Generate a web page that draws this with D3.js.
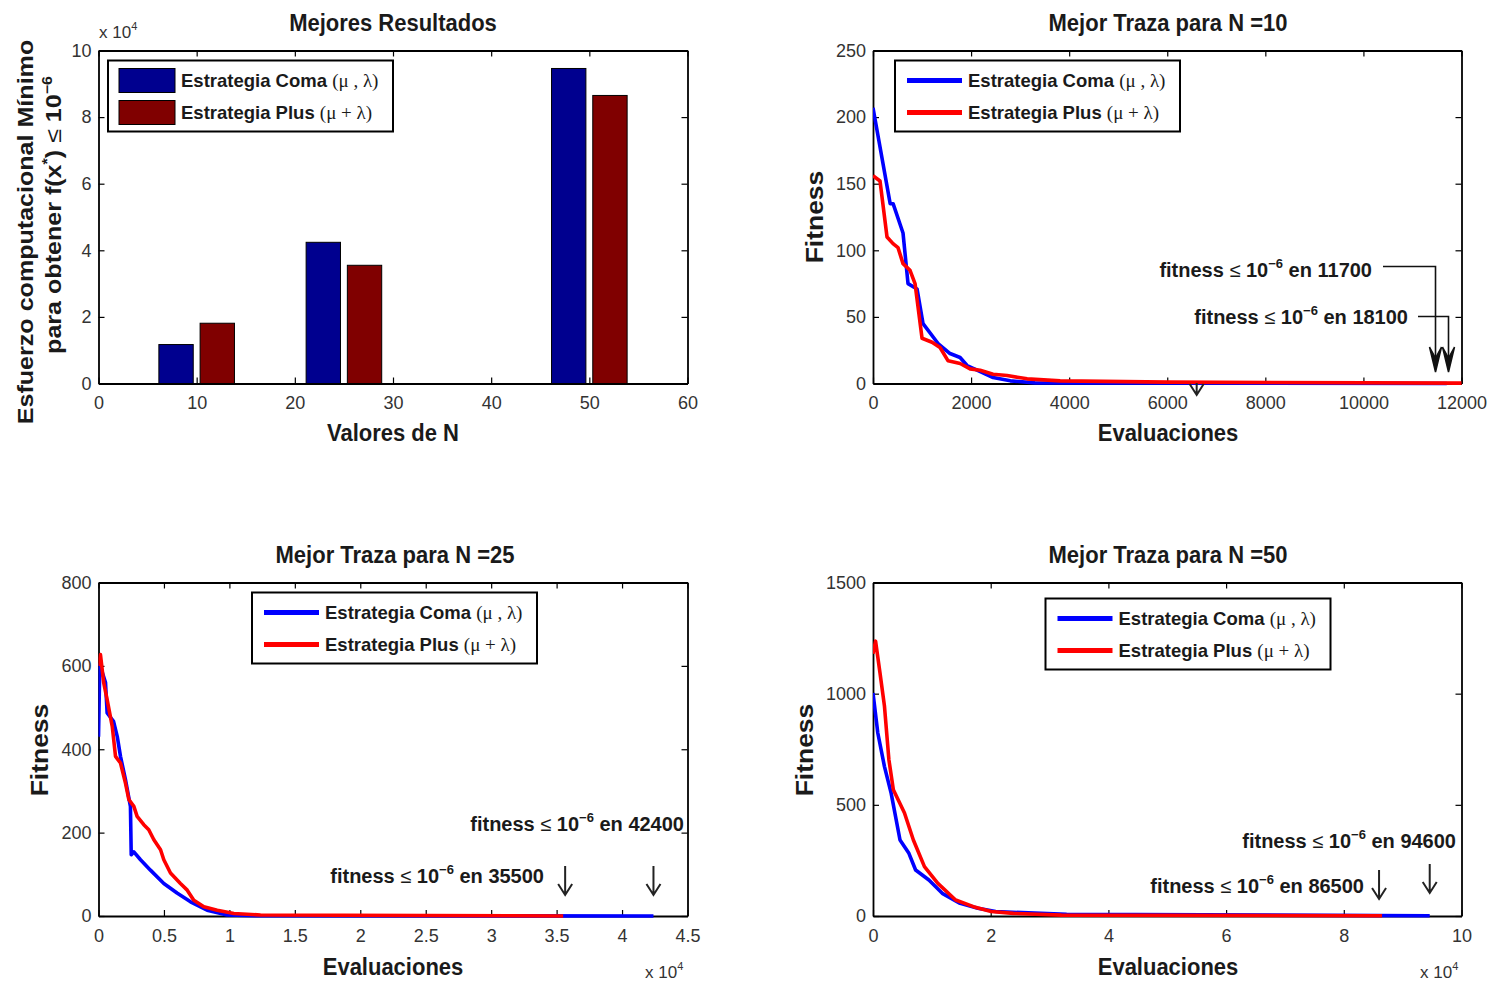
<!DOCTYPE html>
<html lang="es">
<head>
<meta charset="UTF-8">
<title>Mejores Resultados</title>
<script src="https://d3js.org/d3.v7.min.js"></script>
<style>
  body { margin: 0; background: #fff; }
  svg { display: block; font-family: "Liberation Sans", Arial, sans-serif; }
  .tick text { font-size: 18px; fill: #333; font-family: "Liberation Sans", Arial, sans-serif; }
  .domain { stroke: #000; stroke-width: 1.8px; }
  .tick line { stroke: #000; stroke-width: 1.2px; }
  .legend-box { fill: #fff; stroke: #000; stroke-width: 2px; }
</style>
</head>
<body>
<svg width="1493" height="986"></svg>
<script>
// bar chart: minimum evaluations to reach f(x*) <= 1e-6
const valoresN = [10, 25, 50];
const esfuerzoComa = [11700, 42400, 94600];
const esfuerzoPlus = [18100, 35500, 86500];

// best traces, N = 10
const evalComa10 = [0, 350, 410, 612, 714, 898, 1020, 1327, 1571, 1776, 1918, 2122, 2449, 2800, 3300, 11700];
const fitComa10  = [207, 135, 135, 113, 75, 71, 45, 30, 22.5, 19.5, 13.5, 10, 4.5, 2, 0.5, 0];
const evalPlus10 = [0, 143, 286, 408, 510, 612, 755, 857, 1000, 1204, 1367, 1531, 1776, 1980, 2184, 2449, 2735, 3143, 3816, 6000, 12000, 18100];
const fitPlus10  = [156, 152, 110, 105, 102, 90, 85, 75, 34, 31, 27, 17, 15, 11, 10, 7, 6, 3.5, 2, 1, 0.3, 0];

// best traces, N = 25
const evalComa25 = [0, 100, 535, 660, 1150, 1430, 1680, 2060, 2440, 2500, 2700, 3210, 3970, 4990, 6000, 7030, 8300, 9830, 12000, 42400];
const fitComa25  = [430, 603, 560, 487, 467, 431, 383, 327, 263, 147, 154, 135, 110, 78, 55, 34, 14, 2.5, 0.5, 0];
const evalPlus25 = [0, 150, 400, 660, 1050, 1300, 1680, 2060, 2320, 2700, 2950, 3460, 3840, 4230, 4740, 4990, 5500, 6260, 6780, 7280, 8050, 9070, 10340, 12380, 35500];
const fitPlus25  = [600, 627, 559, 519, 455, 383, 367, 319, 279, 263, 239, 219, 207, 183, 159, 135, 103, 78, 62, 38, 22, 14, 6, 2.5, 0];

// best traces, N = 50
const evalComa50 = [0, 816, 1950, 3080, 4590, 6100, 7240, 9500, 11770, 14800, 17820, 20840, 25330, 32900, 94600];
const fitComa50  = [1003, 823, 672, 553, 342, 282, 207, 162, 102, 57, 35, 20, 15, 8, 1];
const evalPlus50 = [0, 440, 1190, 1950, 2700, 3460, 5350, 6860, 8740, 11020, 14040, 17060, 20080, 23860, 32000, 86500];
const fitPlus50  = [1180, 1236, 1093, 943, 703, 568, 463, 342, 222, 147, 72, 42, 20, 12, 4, 1];

const legendComa = "Estrategia Coma ";
const legendPlus = "Estrategia Plus ";

const colComaBar = "#00008f", colPlusBar = "#800000";
const colComa = "#0000ff", colPlus = "#ff0000";

const svg = d3.select("svg");
let clipId = 0;

function setupPanel(box, xDomain, yDomain, xTicks, yTicks, xFmt, yFmt) {
  const x = d3.scaleLinear().domain(xDomain).range([box.left, box.right]);
  const y = d3.scaleLinear().domain(yDomain).range([box.bottom, box.top]);
  const g = svg.append("g");

  g.append("g").attr("transform", `translate(0,${box.bottom})`)
    .call(d3.axisBottom(x).tickValues(xTicks).tickFormat(xFmt).tickSize(-6).tickSizeOuter(0).tickPadding(13));
  g.append("g").attr("transform", `translate(0,${box.top})`)
    .call(d3.axisTop(x).tickValues(xTicks).tickFormat("").tickSize(-6).tickSizeOuter(0));
  g.append("g").attr("transform", `translate(${box.left},0)`)
    .call(d3.axisLeft(y).tickValues(yTicks).tickFormat(yFmt).tickSize(-6).tickSizeOuter(0).tickPadding(7));
  g.append("g").attr("transform", `translate(${box.right},0)`)
    .call(d3.axisRight(y).tickValues(yTicks).tickFormat("").tickSize(-6).tickSizeOuter(0));

  const id = "clip" + (clipId++);
  g.append("clipPath").attr("id", id).append("rect")
    .attr("x", box.left).attr("y", box.top - 4)
    .attr("width", box.right - box.left).attr("height", box.bottom - box.top + 8);
  const plot = g.append("g").attr("clip-path", `url(#${id})`);
  return { x, y, g, plot };
}

function hlabel(g, cx, cy, size, sy) {
  return g.append("text")
    .attr("transform", `translate(${cx},${cy}) scale(1,${sy})`)
    .attr("text-anchor", "middle").attr("dy", "0.36em")
    .attr("font-size", size).attr("font-weight", "bold").attr("fill", "#1a1a1a");
}

function vlabel(g, cx, cy, size, sx) {
  return g.append("text")
    .attr("transform", `translate(${cx},${cy}) rotate(-90) scale(${sx},1)`)
    .attr("text-anchor", "middle").attr("dy", "0.36em")
    .attr("font-size", size).attr("font-weight", "bold").attr("fill", "#1a1a1a");
}

function expLabel(g, x0, cy) {
  const t = g.append("text").attr("x", x0).attr("y", cy).attr("dy", "0.36em")
    .attr("font-size", 17).attr("fill", "#333");
  t.append("tspan").text("x 10");
  t.append("tspan").attr("dy", -8).attr("font-size", 11).text("4");
}

function greek(t, sym) {
  t.append("tspan").attr("font-weight", "normal").attr("font-family", "'Liberation Serif', serif")
    .attr("font-size", 19).text(sym);
}

function legend(g, bx, by, kind) {
  const w = 285, h = 71;
  g.append("rect").attr("class", "legend-box").attr("x", bx).attr("y", by).attr("width", w).attr("height", h);
  const rows = [
    { c: kind === "bar" ? colComaBar : colComa, label: legendComa, sym: "(μ , λ)" },
    { c: kind === "bar" ? colPlusBar : colPlus, label: legendPlus, sym: "(μ + λ)" }
  ];
  rows.forEach((r, i) => {
    const cy = by + 20 + i * 32;
    if (kind === "bar") {
      g.append("rect").attr("x", bx + 11).attr("y", cy - 12).attr("width", 56).attr("height", 24)
        .attr("fill", r.c).attr("stroke", "#000").attr("stroke-width", 1);
    } else {
      g.append("line").attr("x1", bx + 12).attr("x2", bx + 67).attr("y1", cy).attr("y2", cy)
        .attr("stroke", r.c).attr("stroke-width", 5);
    }
    const t = g.append("text").attr("x", bx + 73).attr("y", cy).attr("dy", "0.36em")
      .attr("font-size", 18.5).attr("font-weight", "bold").attr("fill", "#1a1a1a");
    t.append("tspan").text(r.label);
    greek(t, r.sym);
  });
}

function annot(g, xEnd, cy, num) {
  const t = g.append("text").attr("x", xEnd).attr("y", cy).attr("dy", "0.36em")
    .attr("text-anchor", "end").attr("font-size", 20).attr("font-weight", "bold").attr("fill", "#1a1a1a");
  t.append("tspan").text("fitness ");
  t.append("tspan").attr("font-weight", "normal").text("≤");
  t.append("tspan").text(" 10");
  t.append("tspan").attr("dy", -9).attr("font-size", 13).text("−6");
  t.append("tspan").attr("dy", 9).text(" en " + num);
}

function downArrow(g, x, y1, y2) {
  g.append("path")
    .attr("d", `M${x},${y1}V${y2}M${x - 7},${y2 - 11}L${x},${y2}L${x + 7},${y2 - 11}`)
    .attr("fill", "none").attr("stroke", "#222").attr("stroke-width", 2);
}

function elbowArrow(g, x1, y1, x2, y2) {
  g.append("path").attr("d", `M${x1},${y1}H${x2}V${y2 - 10}`)
    .attr("fill", "none").attr("stroke", "#111").attr("stroke-width", 1.6);
  g.append("path")
    .attr("d", `M${x2 - 6},${y2 - 25}L${x2},${y2}L${x2 + 6},${y2 - 25}L${x2},${y2 - 14}Z`)
    .attr("fill", "#111").attr("stroke", "#111").attr("stroke-width", 1.5);
}

function trace(p, xs, ys, color) {
  const line = d3.line().x(d => p.x(d[0])).y(d => p.y(d[1]));
  p.plot.append("path").datum(d3.zip(xs, ys))
    .attr("d", line).attr("fill", "none").attr("stroke", color)
    .attr("stroke-width", 3.6).attr("stroke-linejoin", "round");
}

const fmtInt = d3.format("d");
const fmtE4 = d => d3.format("~g")(d / 1e4);

// ---------- top left: bars ----------
{
  const box = { left: 98.5, right: 687.5, top: 50.5, bottom: 383.5 };
  const p = setupPanel(box, [0, 60], [0, 100000], d3.range(0, 61, 10), d3.range(0, 100001, 20000), fmtInt, fmtE4);
  const barW = 3.5, off = 2.1;
  const bw = p.x(barW) - p.x(0);
  const series = [
    { vals: esfuerzoComa, dx: -off, c: colComaBar },
    { vals: esfuerzoPlus, dx: off, c: colPlusBar }
  ];
  series.forEach(s => {
    p.g.selectAll(null).data(valoresN.map((n, i) => [n, s.vals[i]])).enter().append("rect")
      .attr("x", d => p.x(d[0] + s.dx - barW / 2)).attr("width", bw)
      .attr("y", d => p.y(d[1])).attr("height", d => p.y(0) - p.y(d[1]))
      .attr("fill", s.c).attr("stroke", "#000").attr("stroke-width", 1);
  });
  legend(p.g, 108, 60.5, "bar");
  hlabel(p.g, 393, 22, 22, 1.1).text("Mejores Resultados");
  hlabel(p.g, 393, 432, 22, 1.1).text("Valores de N");
  expLabel(p.g, 99, 32);
  vlabel(p.g, 25, 232, 22, 1.14).text("Esfuerzo computacional Mínimo");
  const t2 = vlabel(p.g, 53, 215, 22, 1.14);
  t2.append("tspan").text("para obtener f(x");
  t2.append("tspan").attr("dy", -9).attr("font-size", 14).text("*");
  t2.append("tspan").attr("dy", 9).text(") ");
  t2.append("tspan").attr("font-weight", "normal").text("≤");
  t2.append("tspan").text(" 10");
  t2.append("tspan").attr("dy", -9).attr("font-size", 14).text("−6");
}

// ---------- top right: N = 10 ----------
{
  const box = { left: 873, right: 1461.5, top: 50.5, bottom: 383.5 };
  const p = setupPanel(box, [0, 12000], [0, 250], d3.range(0, 12001, 2000), d3.range(0, 251, 50), fmtInt, fmtInt);
  trace(p, evalComa10, fitComa10, colComa);
  trace(p, evalPlus10, fitPlus10, colPlus);
  legend(p.g, 895, 60.5, "line");
  hlabel(p.g, 1168, 22, 22, 1.1).text("Mejor Traza para N =10");
  hlabel(p.g, 1168, 432, 22, 1.1).text("Evaluaciones");
  vlabel(p.g, 815, 217, 23, 1.15).text("Fitness");
  annot(p.g, 1372, 270, esfuerzoComa[0]);
  annot(p.g, 1408, 317, esfuerzoPlus[0]);
  elbowArrow(p.g, 1383, 266.5, p.x(11470), 372);
  elbowArrow(p.g, 1418, 316.5, p.x(11735), 372);
  downArrow(p.g, p.x(6600), 383, 395);
}

// ---------- bottom left: N = 25 ----------
{
  const box = { left: 98.5, right: 687.5, top: 582.5, bottom: 916 };
  const p = setupPanel(box, [0, 45000], [0, 800], d3.range(0, 45001, 5000), d3.range(0, 801, 200), fmtE4, fmtInt);
  trace(p, evalComa25, fitComa25, colComa);
  trace(p, evalPlus25, fitPlus25, colPlus);
  legend(p.g, 252, 592.5, "line");
  hlabel(p.g, 395, 554, 22, 1.1).text("Mejor Traza para N =25");
  hlabel(p.g, 393, 966, 22, 1.1).text("Evaluaciones");
  vlabel(p.g, 40, 750, 23, 1.15).text("Fitness");
  expLabel(p.g, 645, 972);
  annot(p.g, 684, 824, esfuerzoComa[1]);
  annot(p.g, 544, 876, esfuerzoPlus[1]);
  downArrow(p.g, p.x(esfuerzoPlus[1]) + 2, 866, 895);
  downArrow(p.g, p.x(esfuerzoComa[1]), 866, 895);
}

// ---------- bottom right: N = 50 ----------
{
  const box = { left: 873, right: 1461.5, top: 582.5, bottom: 916 };
  const p = setupPanel(box, [0, 100000], [0, 1500], d3.range(0, 100001, 20000), d3.range(0, 1501, 500), fmtE4, fmtInt);
  trace(p, evalComa50, fitComa50, colComa);
  trace(p, evalPlus50, fitPlus50, colPlus);
  legend(p.g, 1045.5, 598.5, "line");
  hlabel(p.g, 1168, 554, 22, 1.1).text("Mejor Traza para N =50");
  hlabel(p.g, 1168, 966, 22, 1.1).text("Evaluaciones");
  vlabel(p.g, 805, 750, 23, 1.15).text("Fitness");
  expLabel(p.g, 1420, 972);
  annot(p.g, 1456, 841, esfuerzoComa[2]);
  annot(p.g, 1364, 886, esfuerzoPlus[2]);
  downArrow(p.g, p.x(esfuerzoPlus[2]) - 3, 870, 899);
  downArrow(p.g, p.x(esfuerzoComa[2]), 864, 893);
}
</script>
</body>
</html>
